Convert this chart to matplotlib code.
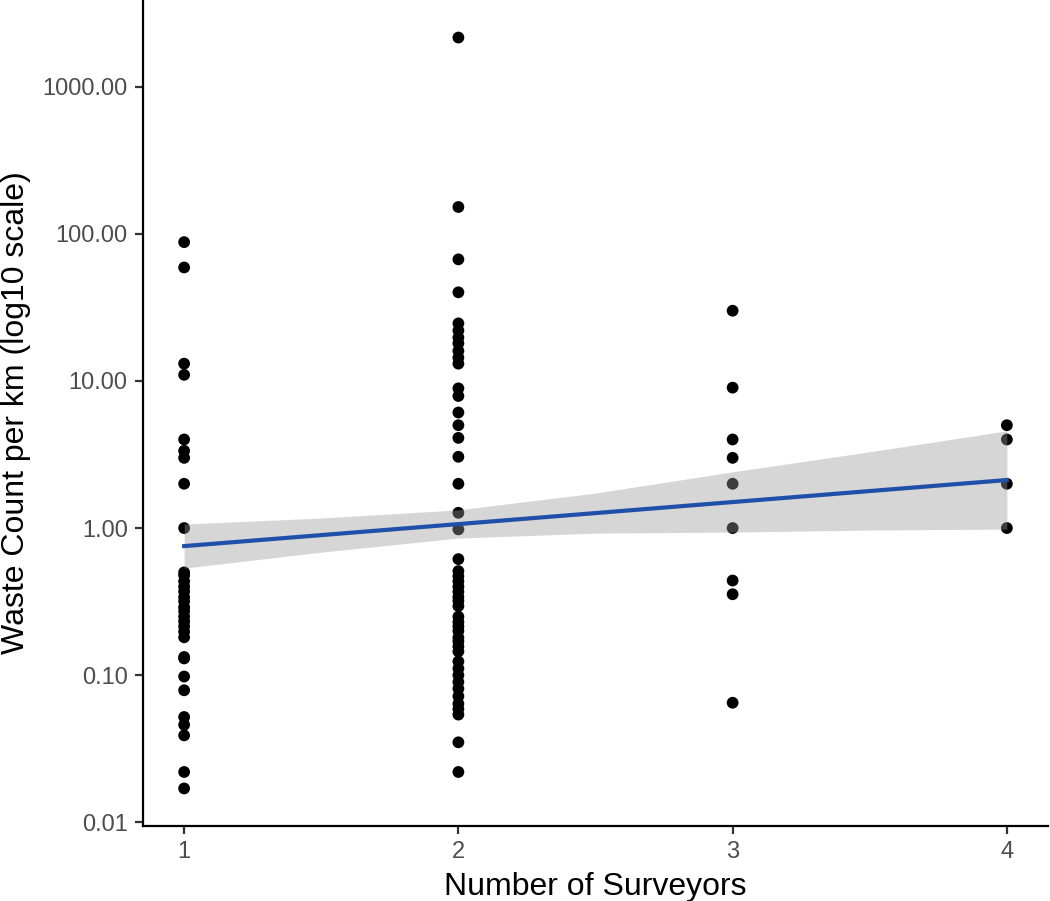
import numpy as np
import matplotlib
matplotlib.use("Agg")
import matplotlib.pyplot as plt

plt.rcParams['font.family'] = ['Liberation Sans', 'DejaVu Sans']

# waste counts per km, grouped by number of surveyors
waste_1 = [87.7, 59, 13.1, 11.0, 4.0, 3.35, 3.0, 2.0, 1.0,
           0.50, 0.478, 0.435, 0.40, 0.372, 0.34, 0.318, 0.29, 0.272, 0.25,
           0.232, 0.215, 0.198, 0.181, 0.133, 0.13, 0.098, 0.079, 0.052,
           0.046, 0.039, 0.022, 0.017]
waste_2 = [2155, 152, 67, 40, 24.6, 22, 19.7, 18, 16, 14.4, 13.1,
           8.9, 7.9, 6.1, 5.0, 4.1, 3.05, 2.0, 1.27, 0.98,
           0.615, 0.51, 0.47, 0.435, 0.40, 0.37, 0.34, 0.32, 0.295,
           0.25, 0.23, 0.215, 0.20, 0.18, 0.17, 0.157, 0.145,
           0.124, 0.111, 0.10, 0.09, 0.081,
           0.072, 0.064, 0.059, 0.054, 0.035, 0.022]
waste_3 = [30, 9.0, 4.0, 3.0, 2.0, 1.0, 0.44, 0.355, 0.065]
waste_4 = [5.0, 4.0, 2.0, 1.0]

surveyors = [1, 2, 3, 4]
groups = [waste_1, waste_2, waste_3, waste_4]

# fitted trend (lm on log10 scale) and its 95% band
fit_x = [1, 4]
fit_y = [0.754, 2.12]
band_x = [1, 1.5, 2, 2.5, 3, 3.5, 4]
band_lo = [0.534, 0.686, 0.855, 0.924, 0.939, 0.969, 0.984]
band_hi = [1.065, 1.17, 1.33, 1.73, 2.41, 3.30, 4.58]

x = np.concatenate([np.full(len(g), s, dtype=float) for s, g in zip(surveyors, groups)])
y = np.concatenate([np.array(g, dtype=float) for g in groups])
ly = np.log10(y)

fig = plt.figure(figsize=(10.5, 9.01), dpi=100)
ax = fig.add_axes([143 / 1050, 75 / 901, 905 / 1050, 826 / 901])

ax.scatter(x, y, s=72, color='black', edgecolors='none', zorder=2)
ax.fill_between(band_x, band_lo, band_hi, color='#999999', alpha=0.4, linewidth=0, zorder=3)
ax.plot(fit_x, fit_y, color='#1f4fa8', linewidth=3, zorder=4)

ax.set_yscale('log')
rng = ly.max() - ly.min()
ax.set_ylim(10 ** (ly.min() - 0.05 * rng), 10 ** (ly.max() + 0.05 * rng))
ax.set_xlim(0.85, 4.15)

yt = [0.01, 0.1, 1, 10, 100, 1000]
ax.set_yticks(yt)
ax.set_yticklabels(['%.2f' % v for v in yt])
ax.yaxis.set_minor_locator(matplotlib.ticker.NullLocator())
ax.set_xticks(surveyors)
ax.set_xticklabels([str(s) for s in surveyors])

for sp in ['top', 'right']:
    ax.spines[sp].set_visible(False)
for sp in ['left', 'bottom']:
    ax.spines[sp].set_linewidth(1.6)
ax.tick_params(axis='both', length=6, width=1.6, color='#333333',
               labelcolor='#4d4d4d', labelsize=17, pad=5)

ax.set_xlabel('Number of Surveyors', fontsize=23, labelpad=6)
ax.set_ylabel('Waste Count per km (log10 scale)', fontsize=23, labelpad=8)

fig.savefig('out.png', dpi=100)
